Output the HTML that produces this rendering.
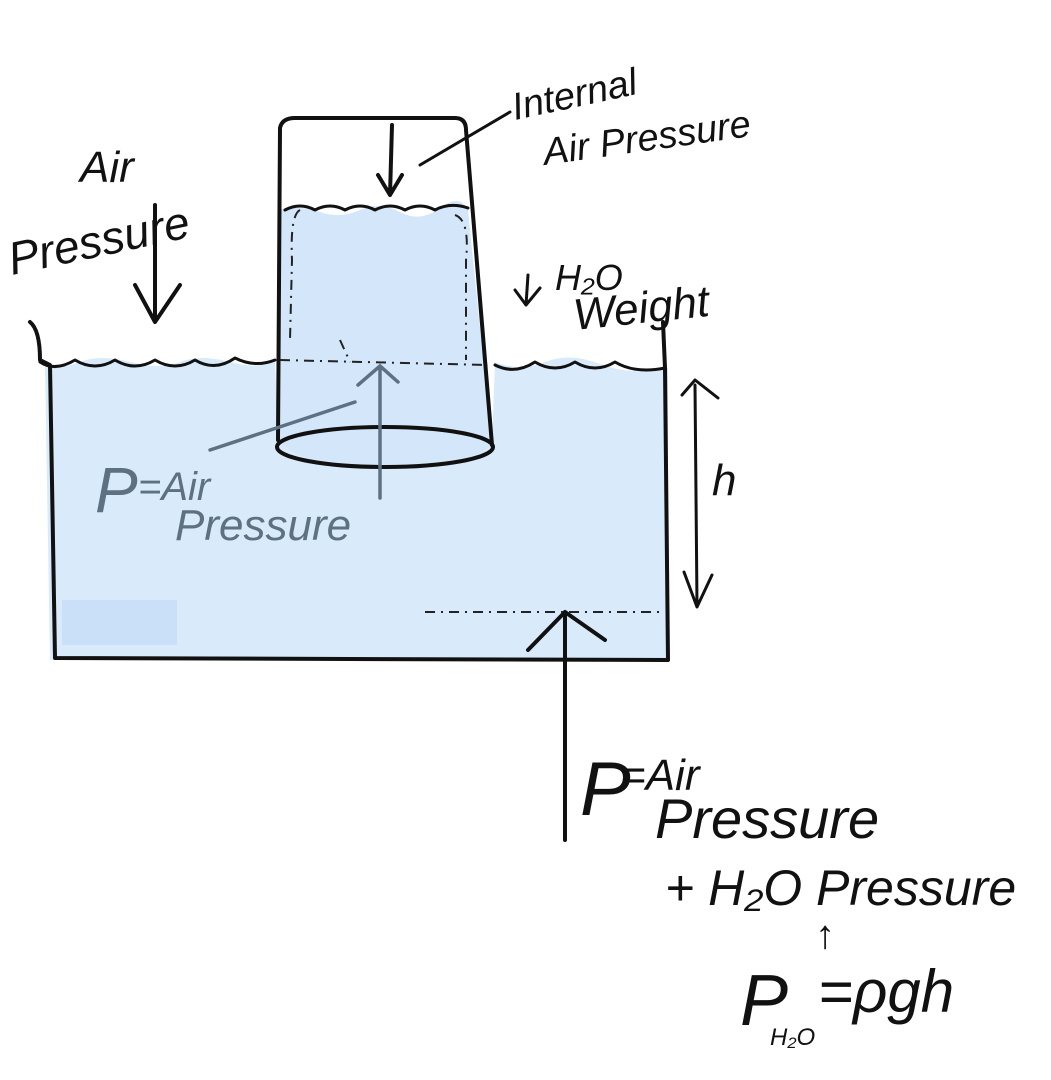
<!DOCTYPE html>
<html><head><meta charset="utf-8"><style>
html,body{margin:0;padding:0;background:#fff;}
svg{display:block}
text{font-family:"Liberation Sans",sans-serif;font-style:italic;}
</style></head><body>
<svg width="1051" height="1080" viewBox="0 0 1051 1080" xmlns="http://www.w3.org/2000/svg">
<path d="M45 365 Q60 370 80 362 T130 362 T180 362 T230 362 T275 360 L278 440 Q300 468 385 468 Q470 468 492 445 L495 362 Q520 372 545 362 T600 364 T668 368 L668 660 L50 660 Z" fill="#d9eafb"/>
<path d="M278 210 Q300 205 320 212 T360 210 T400 212 T440 208 T468 210 L492 445 Q470 468 385 468 Q300 468 278 440 Z" fill="#d4e7fa"/>
<rect x="62" y="600" width="115" height="45" fill="#c9e0f8"/>
<g fill="none" stroke="#111" stroke-width="4" stroke-linecap="round" stroke-linejoin="round">
<path d="M30 322 Q40 330 40 360 L50 365 L55 658 L668 660 L665 368 L663 322"/>
<path d="M40 362 Q55 372 75 360 Q95 372 115 360 Q135 372 155 360 Q175 372 195 360 Q215 372 235 358 Q255 368 275 360" stroke-width="3"/>
<path d="M495 365 Q515 375 535 362 Q555 374 575 362 Q595 374 615 362 Q635 374 665 368" stroke-width="3"/>
<path d="M278 440 L280 128 Q282 118 295 118 L455 118 Q466 118 466 130 L492 445"/>
<ellipse cx="385" cy="447" rx="108" ry="20"/>
<path d="M285 210 Q300 202 315 210 Q330 202 345 210 Q360 202 375 210 Q390 202 405 210 Q420 202 435 210 Q450 202 468 208" stroke-width="3"/>
<path d="M155 205 L155 320 M135 285 L155 322 L180 285"/>
<path d="M392 125 L390 195 M378 175 L390 195 L402 175"/>
<path d="M528 275 L526 305 M515 290 L526 305 L540 288" stroke-width="3"/>
<path d="M695 385 L697 605 M682 395 L695 380 L718 398 M684 572 L697 607 L712 575" stroke-width="3"/>
<path d="M565 840 L565 612 M528 650 L565 612 L605 640"/>
<path d="M420 165 L510 112" stroke-width="3"/>
</g>
<g fill="none" stroke="#222" stroke-width="2" stroke-dasharray="10 6 2 6">
<path d="M300 210 Q290 215 292 260 L290 340"/>
<path d="M455 215 Q470 220 466 260 L466 360"/>
<path d="M280 360 L488 365"/>
<path d="M425 612 L660 612"/>
<path d="M340 340 L350 362"/>
</g>
<g fill="none" stroke="#5d7183" stroke-width="3.5" stroke-linecap="round">
<path d="M380 498 L380 368 M358 385 L380 366 L398 382"/>
<path d="M210 450 L355 402"/>
</g>
<text x="95" y="512" font-size="64" fill="#5d7183">P</text>
<text x="138" y="500" font-size="40" fill="#5d7183">=Air</text>
<text x="175" y="540" font-size="44" fill="#5d7183">Pressure</text>
<text x="80" y="182" font-size="44" fill="#111">Air</text>
<text x="12" y="275" font-size="46" fill="#111" transform="rotate(-12 12 275)">Pressure</text>
<text x="515" y="120" font-size="38" fill="#111" transform="rotate(-12 515 120)">Internal</text>
<text x="545" y="165" font-size="38" fill="#111" transform="rotate(-8 545 165)">Air Pressure</text>
<text x="555" y="290" font-size="36" fill="#111">H₂O</text>
<text x="575" y="330" font-size="44" fill="#111" transform="rotate(-6 575 330)">Weight</text>
<text x="712" y="495" font-size="44" fill="#111">h</text>
<text x="580" y="815" font-size="76" fill="#111">P</text>
<text x="620" y="790" font-size="44" fill="#111">=Air</text>
<text x="655" y="838" font-size="56" fill="#111">Pressure</text>
<text x="665" y="905" font-size="50" fill="#111">+ H₂O Pressure</text>
<text x="815" y="948" font-size="40" fill="#111">↑</text>
<text x="740" y="1025" font-size="72" fill="#111">P</text>
<text x="770" y="1045" font-size="24" fill="#111">H₂O</text>
<text x="818" y="1012" font-size="60" fill="#111">=ρgh</text>
</svg>
</body></html>
